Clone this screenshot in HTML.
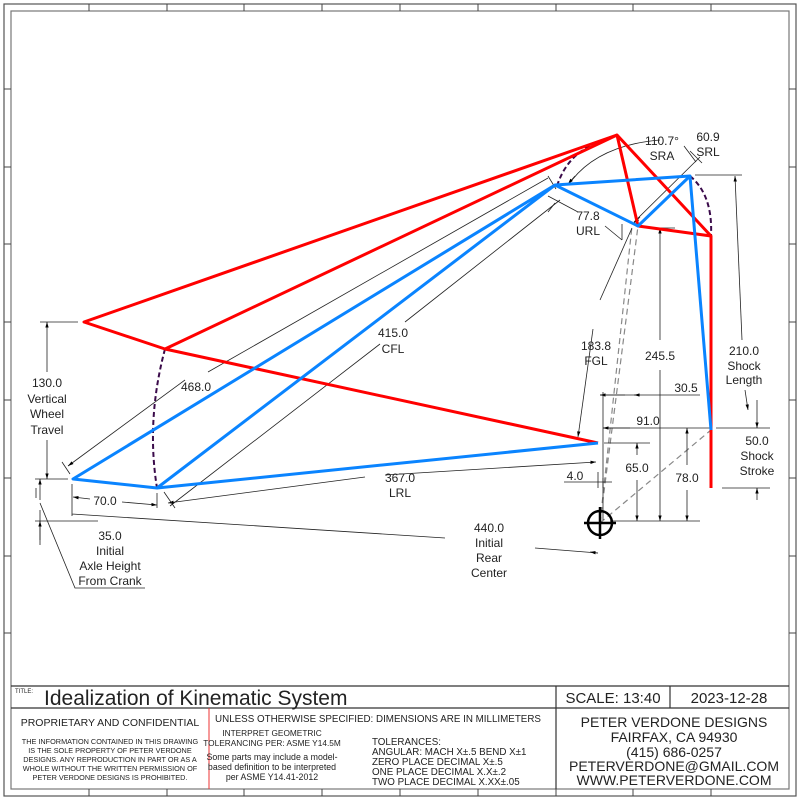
<!DOCTYPE html>
<html><head><meta charset="utf-8"><style>
html,body{margin:0;padding:0;background:#fff}
svg{display:block}
text{font-family:"Liberation Sans",sans-serif;fill:#222}
</style></head><body>
<svg width="800" height="800" viewBox="0 0 800 800" xmlns="http://www.w3.org/2000/svg">
<defs>
<marker id="a" viewBox="0 0 10 10" refX="10" refY="5" markerWidth="7" markerHeight="7" orient="auto-start-reverse"><path d="M0,2 L10,5 L0,8 z" fill="#000"/></marker>
</defs>
<rect x="4" y="4" width="792" height="792" fill="none" stroke="#555" stroke-width="1.2"/>
<rect x="11" y="11" width="778" height="778" fill="none" stroke="#777" stroke-width="1.2"/>
<g stroke="#444" stroke-width="1">
<path d="M89,4V11M167,4V11M244,4V11M322,4V11M400,4V11M478,4V11M556,4V11M633,4V11M711,4V11"/>
<path d="M89,789V796M167,789V796M244,789V796M322,789V796M400,789V796M478,789V796M556,789V796M633,789V796M711,789V796"/>
<path d="M4,89H11M4,167H11M4,244H11M4,322H11M4,400H11M4,478H11M4,556H11M4,633H11"/>
<path d="M789,89H796M789,167H796M789,244H796M789,322H796M789,400H796M789,478H796M789,556H796M789,633H796"/>
</g>
<g stroke="#333" stroke-width="1.2" fill="none">
<path d="M11,686H789M11,708H789M556,686V789M670,686V708"/>
</g>
<path d="M209,708V789" stroke="#e33" stroke-width="1"/>
<text x="15" y="693" font-size="6">TITLE:</text>
<text x="44" y="705" font-size="21">Idealization of Kinematic System</text>
<text x="613" y="703" font-size="15" text-anchor="middle">SCALE: 13:40</text>
<text x="729" y="703" font-size="15" text-anchor="middle">2023-12-28</text>
<text x="110" y="726" font-size="10.5" text-anchor="middle">PROPRIETARY AND CONFIDENTIAL</text>
<g font-size="7.3" text-anchor="middle">
<text x="110" y="744">THE INFORMATION CONTAINED IN THIS DRAWING</text>
<text x="110" y="753">IS THE SOLE PROPERTY OF PETER VERDONE</text>
<text x="110" y="762">DESIGNS.  ANY  REPRODUCTION IN PART OR AS A</text>
<text x="110" y="771">WHOLE WITHOUT THE WRITTEN PERMISSION OF</text>
<text x="110" y="780">PETER VERDONE DESIGNS IS PROHIBITED.</text>
</g>
<text x="378" y="722" font-size="9.8" text-anchor="middle">UNLESS OTHERWISE SPECIFIED: DIMENSIONS ARE IN MILLIMETERS</text>
<g font-size="8.3" text-anchor="middle">
<text x="272" y="736">INTERPRET GEOMETRIC</text>
<text x="272" y="746">TOLERANCING PER: ASME Y14.5M</text>
<text x="272" y="760" font-size="8.8">Some parts may include a model-</text>
<text x="272" y="770" font-size="8.8">based definition to be interpreted</text>
<text x="272" y="780" font-size="8.8">per ASME Y14.41-2012</text>
</g>
<g font-size="9.8" xml:space="preserve">
<text x="372" y="745">TOLERANCES:</text>
<text x="372" y="755">ANGULAR: MACH X±.5   BEND X±1</text>
<text x="372" y="765">ZERO PLACE DECIMAL   X±.5</text>
<text x="372" y="775">ONE PLACE DECIMAL    X.X±.2</text>
<text x="372" y="785">TWO PLACE DECIMAL   X.XX±.05</text>
</g>
<g font-size="14" text-anchor="middle">
<text x="674" y="727">PETER VERDONE DESIGNS</text>
<text x="674" y="742">FAIRFAX, CA 94930</text>
<text x="674" y="757">(415) 686-0257</text>
<text x="674" y="771">PETERVERDONE@GMAIL.COM</text>
<text x="674" y="785">WWW.PETERVERDONE.COM</text>
</g>

<g stroke="#888" stroke-width="1.2" fill="none" stroke-dasharray="6,4">
<path d="M600,523L638,226M600,523L632,226M600,523L711,430"/>
</g>
<g stroke="#3a0a4a" stroke-width="2" fill="none" stroke-dasharray="5,3">
<path d="M165,349Q146,420 157,488"/>
<path d="M557,186Q566,158 590,146"/>
<path d="M690,176Q713,195 711,236"/>
</g>
<g stroke="#222" stroke-width="0.8" fill="none">
<path d="M40,322H78M35,479H68M35,521H98M36,488V498M40,510V545"/>
<path d="M47,372V322" marker-end="url(#a)"/><path d="M47,440V479" marker-end="url(#a)"/>
<path d="M40,500V479" marker-end="url(#a)"/><path d="M40,540V521" marker-end="url(#a)"/>
<path d="M40,503L75,588H145"/>
<path d="M62,462L70,474M548,176L556,189"/>
<path d="M185,380L68,466" marker-end="url(#a)"/><path d="M208,372L548,178"/>
<path d="M170,506L380,344M405,322L560,200"/>
<path d="M385,475L596,462" marker-end="url(#a)"/><path d="M365,477L168,503" marker-end="url(#a)"/>
<path d="M72,484V516M72,514L445,538M535,548L598,553" />
<path d="M598,553L590,552" marker-end="url(#a)"/>
<path d="M90,499L73,497" marker-end="url(#a)"/><path d="M122,502L157,505" marker-end="url(#a)"/>
<path d="M157,493V508M164,492L175,508"/>
<path d="M564,482H612M598,472V488M603,478V488"/>
<path d="M604,443H650"/><path d="M637,455V443" marker-end="url(#a)"/><path d="M637,480V521" marker-end="url(#a)"/>
<path d="M610,521H700"/>
<path d="M687,465V428" marker-end="url(#a)"/><path d="M687,490V521" marker-end="url(#a)"/>
<path d="M660,340V228" marker-end="url(#a)"/><path d="M660,370V521" marker-end="url(#a)"/><path d="M645,228H675"/>
<path d="M600,395H700"/><path d="M625,395H600" marker-end="url(#a)"/><path d="M640,395H634" marker-end="url(#a)"/>
<path d="M603,428H711"/><path d="M630,428H603" marker-end="url(#a)"/>
<path d="M603,392V520"/>
<path d="M593,329L578,437" marker-end="url(#a)"/><path d="M600,300L632,228"/>
<path d="M695,175H742"/>
<path d="M742,340L735,176" marker-end="url(#a)"/><path d="M745,390L748,410" marker-end="url(#a)"/>
<path d="M716,428H770M722,488H770"/>
<path d="M757,400V428" marker-end="url(#a)"/><path d="M757,500V488" marker-end="url(#a)"/>
<path d="M634,222L700,157M684,146L696,162"/><path d="M690,151L702,163"/><path d="M640,217L634,223" marker-end="url(#a)"/>
<path d="M548,196L578,212M605,226L622,240M555,203L548,212M622,224L622,240"/>
<path d="M572,180Q600,145 660,140"/><path d="M575,176L568,184" marker-end="url(#a)"/>
</g>
<g stroke="#f00" stroke-width="3" fill="none" stroke-linejoin="round">
<path d="M617,135L84,322L165,349L598,443"/>
<path d="M165,349L617,135L638,226L711,236L617,135"/>
<path d="M711,236V488"/>
</g>
<g stroke="#0a84ff" stroke-width="3" fill="none" stroke-linejoin="round">
<path d="M555,185L73,479L157,488L555,185L690,176L711,430"/>
<path d="M157,488L598,443"/>
<path d="M555,185L638,226L690,176"/>
</g>
<g stroke="#000" stroke-width="2.5" fill="none">
<circle cx="600" cy="523" r="12"/>
<path d="M584,523H616M600,507V539"/>
</g>
<g font-size="12" text-anchor="middle">
<text x="47" y="387">130.0</text><text x="47" y="403">Vertical</text><text x="47" y="418">Wheel</text><text x="47" y="434">Travel</text>
<text x="110" y="540">35.0</text><text x="110" y="555">Initial</text><text x="110" y="570">Axle Height</text><text x="110" y="585">From Crank</text>
<text x="196" y="391">468.0</text>
<text x="393" y="337">415.0</text><text x="393" y="353">CFL</text>
<text x="400" y="482">367.0</text><text x="400" y="497">LRL</text>
<text x="489" y="532">440.0</text><text x="489" y="547">Initial</text><text x="489" y="562">Rear</text><text x="489" y="577">Center</text>
<text x="105" y="505">70.0</text>
<text x="575" y="480">4.0</text>
<text x="637" y="472">65.0</text>
<text x="687" y="482">78.0</text>
<text x="660" y="360">245.5</text>
<text x="686" y="392">30.5</text>
<text x="648" y="425">91.0</text>
<text x="596" y="350">183.8</text><text x="596" y="365">FGL</text>
<text x="744" y="355">210.0</text><text x="744" y="370">Shock</text><text x="744" y="384">Length</text>
<text x="757" y="445">50.0</text><text x="757" y="460">Shock</text><text x="757" y="475">Stroke</text>
<text x="662" y="145">110.7°</text><text x="662" y="160">SRA</text>
<text x="708" y="141">60.9</text><text x="708" y="156">SRL</text>
<text x="588" y="220">77.8</text><text x="588" y="235">URL</text>
</g>
</svg>
</body></html>
